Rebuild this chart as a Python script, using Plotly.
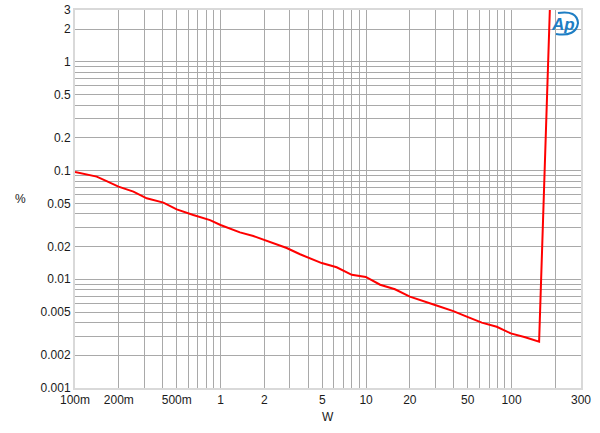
import plotly.graph_objects as go

# Data (power in W, THD+N in %)
power_w = [0.1, 0.141, 0.165, 0.199, 0.252, 0.311, 0.405, 0.5, 0.65, 0.847,
           1.0, 1.36, 1.68, 2.02, 2.85, 3.52, 4.96, 6.28, 7.98, 9.96,
           12.5, 15.8, 20.0, 29.8, 39.8, 49.2, 62.4, 79.1, 98.8, 124, 154.6, 185]
thd_pct = [0.097, 0.088, 0.080, 0.0711, 0.064, 0.0556, 0.0507, 0.044, 0.039, 0.035,
           0.0316, 0.0270, 0.025, 0.023, 0.0194, 0.017, 0.0141, 0.0129, 0.011, 0.0105,
           0.00891, 0.0081, 0.00692, 0.0058, 0.0051, 0.00453, 0.00399, 0.00366, 0.00318, 0.00293, 0.00267, 4.5]

x_labels = {0.1: "100m", 0.2: "200m", 0.5: "500m", 1: "1", 2: "2", 5: "5",
            10: "10", 20: "20", 50: "50", 100: "100", 300: "300"}
y_labels = {0.001: "0.001", 0.002: "0.002", 0.005: "0.005", 0.01: "0.01", 0.02: "0.02",
            0.05: "0.05", 0.1: "0.1", 0.2: "0.2", 0.5: "0.5", 1: "1", 2: "2", 3: "3"}

def grid_vals(decades, extra):
    vals = []
    for d in decades:
        for m in range(1, 10):
            vals.append(round(m * d, 6))
    vals += extra
    return vals

xvals = grid_vals([0.1, 1, 10], [100, 200, 300])
yvals = grid_vals([0.001, 0.01, 0.1], [1, 2, 3])

def lab(v, d):
    for k, t in d.items():
        if abs(k - v) < 1e-9 * max(1, k):
            return t
    return ""

xtext = [lab(v, x_labels) for v in xvals]
ytext = [lab(v, y_labels) for v in yvals]

fig = go.Figure()
fig.add_trace(go.Scatter(x=power_w, y=thd_pct, mode="lines",
                         line=dict(color="#ff0000", width=2), showlegend=False))

L, R, T, B = 75, 581, 10, 388
W, H = 600, 433

axis_common = dict(type="log", showgrid=True, gridcolor="#a9a9a9", gridwidth=1,
                   showline=True, linecolor="#d9d9d9", linewidth=2, mirror=True,
                   ticks="", zeroline=False, automargin=False,
                   tickfont=dict(family="Liberation Sans, Arial, sans-serif", size=12, color="#1a1a1a"))

fig.update_xaxes(range=[-1, 2.4771], tickmode="array", tickvals=xvals, ticktext=xtext, **axis_common)
fig.update_yaxes(range=[-3, 0.4771], tickmode="array", tickvals=yvals, ticktext=ytext, **axis_common)

def px2paper(px, py):
    return (px - L) / (R - L), (B - py) / (B - T)

font = dict(family="Liberation Sans, Arial, sans-serif", size=12, color="#1a1a1a")

# Axis titles
px_, py_ = px2paper(20, 199)
fig.add_annotation(x=px_, y=py_, xref="paper", yref="paper", text="%", showarrow=False, font=font,
                   xanchor="center", yanchor="middle")
wx, wy = px2paper(328, 417)
fig.add_annotation(x=wx, y=wy, xref="paper", yref="paper", text="W", showarrow=False, font=font,
                   xanchor="center", yanchor="middle")

# AP logo
lx, ly = px2paper(563, 24)
fig.add_annotation(x=lx, y=ly, xref="paper", yref="paper", text="<b><i>Ap</i></b>", showarrow=False,
                   xanchor="center", yanchor="middle",
                   font=dict(family="Liberation Sans, Arial, sans-serif", size=17, color="#1e7ec4"))
p0 = px2paper(558, 13)
p1 = px2paper(578, 23)
p2 = px2paper(556, 34)
c1 = px2paper(577, 10)
c2 = px2paper(576, 37)
path = (f"M {p0[0]:.4f},{p0[1]:.4f} Q {c1[0]:.4f},{c1[1]:.4f} {p1[0]:.4f},{p1[1]:.4f} "
        f"Q {c2[0]:.4f},{c2[1]:.4f} {p2[0]:.4f},{p2[1]:.4f}")
fig.add_shape(type="path", path=path, xref="paper", yref="paper",
              line=dict(color="#1e7ec4", width=2))

fig.update_layout(width=W, height=H,
                  margin=dict(l=L, r=W - R, t=T, b=H - B, autoexpand=False),
                  plot_bgcolor="white", paper_bgcolor="white")

fig.write_html("out.html", config={"displayModeBar": False},
               post_script="document.body.style.margin='0px';document.body.style.padding='0px';")
